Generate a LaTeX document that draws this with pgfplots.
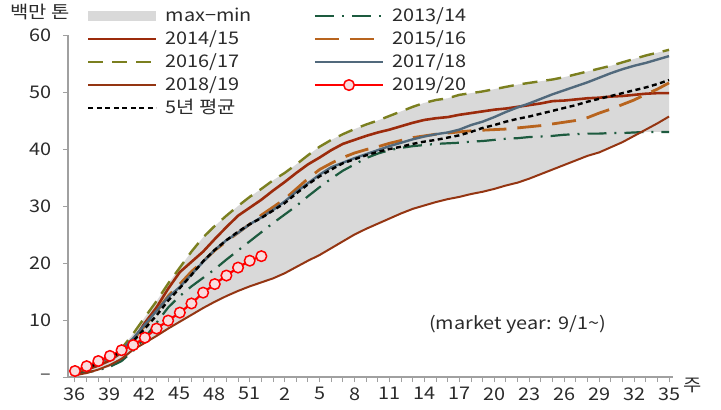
\documentclass[border=0pt]{standalone}
\usepackage{fontspec}
\setmainfont{Noto Sans CJK KR}[FakeStretch=1.14]
\usepackage{pgfplots}
\pgfplotsset{compat=1.18}
\usepackage{pgfplotstable}
\usepgfplotslibrary{fillbetween}

\definecolor{bandgray}{HTML}{D9D9D9}
\definecolor{axisgray}{HTML}{A0A0A0}
\definecolor{labelgray}{HTML}{2B2B2B}
\definecolor{c1314}{HTML}{1D5B3F}
\definecolor{c1415}{HTML}{9C2B0C}
\definecolor{c1516}{HTML}{B8641E}
\definecolor{c1617}{HTML}{7B7F1F}
\definecolor{c1718}{HTML}{51697C}
\definecolor{c1819}{HTML}{943512}
\definecolor{pinkfill}{HTML}{F9DCDE}

\pgfplotstableread{
i A B C D E F G max min
0 0.5 0.8 1.0 1.0 1.1 0.3 0.9 1.1 0.3
1 0.8 1.3 1.6 1.6 1.7 0.7 1.5 1.7 0.7
2 1.2 2.0 2.4 2.4 2.5 1.3 2.4 2.5 1.2
3 1.8 2.9 3.3 3.5 3.5 2.1 3.3 3.5 1.8
4 2.8 4.3 4.6 5.0 4.8 3.2 4.5 5.0 2.8
5 4.6 6.4 6.6 7.6 6.8 4.8 6.3 7.6 4.6
6 6.9 9.5 9.0 10.5 9.2 6.0 8.5 10.5 6.0
7 9.5 12.2 11.5 13.3 11.6 7.2 10.8 13.3 7.2
8 12.2 15.5 14.2 16.4 14.0 8.5 13.4 16.4 8.5
9 14.2 18.4 16.3 19.2 15.8 9.7 15.6 19.2 9.7
10 15.9 20.2 18.5 22.0 18.0 10.9 17.9 22.0 10.9
11 17.4 22.0 20.3 24.5 20.2 12.1 20.3 24.5 12.1
12 18.9 24.2 22.2 26.5 22.3 13.2 22.3 26.5 13.2
13 20.6 26.3 23.8 28.3 24.0 14.2 24.0 28.3 14.2
14 22.2 28.3 25.3 30.0 25.3 15.1 25.5 30.0 15.1
15 23.8 29.7 26.8 31.6 26.8 15.9 26.8 31.6 15.9
16 25.4 31.1 28.4 33.0 28.0 16.6 27.9 33.0 16.6
17 27.0 32.7 29.8 34.5 29.3 17.3 29.2 34.5 17.3
18 28.5 34.2 31.2 35.8 30.8 18.2 30.5 35.8 18.2
19 30.0 35.8 33.0 37.3 32.5 19.3 32.2 37.3 19.3
20 31.7 37.3 34.8 38.9 34.0 20.4 33.8 38.9 20.4
21 33.3 38.5 36.4 40.4 35.5 21.4 35.2 40.4 21.4
22 34.8 39.8 37.5 41.6 36.8 22.6 36.4 41.6 22.6
23 36.2 40.9 38.5 42.6 37.6 23.8 37.5 42.6 23.8
24 37.3 41.6 39.3 43.5 38.4 25.0 38.2 43.5 25.0
25 38.4 42.3 39.9 44.3 39.1 26.0 38.9 44.3 26.0
26 39.2 42.9 40.4 45.0 39.8 26.9 39.5 45.0 26.9
27 39.8 43.4 41.0 45.8 40.5 27.8 40.0 45.8 27.8
28 40.2 44.0 41.5 46.6 41.1 28.7 40.4 46.6 28.7
29 40.5 44.6 42.0 47.4 41.7 29.5 40.9 47.4 29.5
30 40.7 45.1 42.3 48.1 42.2 30.1 41.3 48.1 30.1
31 40.9 45.4 42.6 48.6 42.6 30.7 41.6 48.6 30.7
32 41.0 45.6 42.8 48.9 42.9 31.2 42.0 48.9 31.2
33 41.1 46.0 43.0 49.5 43.4 31.6 42.4 49.5 31.6
34 41.3 46.3 43.2 49.8 44.2 32.1 43.0 49.8 32.1
35 41.4 46.6 43.3 50.1 44.8 32.5 43.7 50.1 32.5
36 41.6 46.9 43.4 50.5 45.6 33.0 44.2 50.5 33.0
37 41.8 47.1 43.5 50.9 46.5 33.6 44.8 50.9 33.6
38 41.9 47.4 43.7 51.3 47.3 34.1 45.3 51.3 34.1
39 42.1 47.7 43.9 51.6 48.0 34.8 45.7 51.6 34.8
40 42.2 48.0 44.1 51.9 48.8 35.6 46.2 51.9 35.6
41 42.3 48.4 44.4 52.2 49.6 36.4 46.7 52.2 36.4
42 42.5 48.5 44.7 52.6 50.3 37.2 47.2 52.6 37.2
43 42.6 48.7 45.0 53.1 51.0 38.0 47.7 53.1 38.0
44 42.7 48.9 45.5 53.6 51.7 38.8 48.3 53.6 38.8
45 42.7 49.0 46.3 54.1 52.5 39.4 48.8 54.1 39.4
46 42.8 49.2 47.0 54.6 53.3 40.3 49.3 54.6 40.3
47 42.8 49.3 47.8 55.2 54.0 41.2 49.8 55.2 41.2
48 42.9 49.5 48.6 55.8 54.6 42.3 50.3 55.8 42.3
49 43.0 49.7 49.6 56.4 55.1 43.4 50.8 56.4 43.0
50 43.0 49.8 50.5 56.9 55.7 44.5 51.4 56.9 43.0
51 43.0 49.8 51.6 57.4 56.3 45.7 52.1 57.4 43.0
}\maindata

\pgfplotstableread{
i H
0 1.05
1 1.9
2 2.8
3 3.7
4 4.7
5 5.6
6 6.9
7 8.5
8 9.9
9 11.3
10 12.9
11 14.8
12 16.3
13 17.8
14 19.2
15 20.4
16 21.2
}\curdata

\begin{document}
\begin{tikzpicture}
\begin{axis}[
  scale only axis, width=605bp, height=342bp,
  xmin=-0.6, xmax=51.34, ymin=0, ymax=60,
  axis x line*=bottom, axis y line*=left,
  axis line style={draw=axisgray, line width=1.3bp},
  xtick={0,3,...,51},
  xticklabels={36,39,42,45,48,51,2,5,8,11,14,17,20,23,26,29,32,35},
  minor xtick={0,...,51},
  ytick={0,10,20,30,40,50,60},
  yticklabels={\textendash,10,20,30,40,50,60},
  tick style={draw=axisgray, line width=1bp},
  major tick length=5bp, minor tick length=5bp,
  tick align=outside,
  /pgf/number format/assume math mode=true,
  ticklabel style={font=\fontsize{17.5}{20}\selectfont, text=labelgray},
  xticklabel style={yshift=-2bp},
  yticklabel style={xshift=-8bp},
  clip=false,
  legend columns=2,
  legend cell align=left,
  legend style={draw=none, fill=none, at={(axis description cs:0.0314,1.089)}, anchor=north west,
    inner sep=0pt, outer sep=0pt, row sep=0pt, font=\fontsize{17.5}{20}\selectfont, text=labelgray,
    nodes={inner xsep=8bp, inner ysep=4.5bp, text height=12bp, text depth=2bp}},
  legend image code/.code={\draw[mark repeat=2,mark phase=2,#1] plot coordinates {(0bp,0bp) (34bp,0bp) (68bp,0bp)};},
  line join=round,
]
\addplot[name path=upper, draw=none, forget plot] table[x=i,y=max]{\maindata};
\addplot[name path=lower, draw=none, forget plot] table[x=i,y=min]{\maindata};
\addplot[fill=bandgray, draw=none, legend image code/.code={\fill[bandgray] (0bp,-5bp) rectangle (68bp,5bp);}] fill between[of=upper and lower];
\addlegendentry{\makebox[140bp][l]{max−min}}

\addplot[c1314, line width=2.2bp, dash pattern=on 19bp off 8bp on 2bp off 8bp] table[x=i,y=A]{\maindata};
\addlegendentry{2013/14}
\addplot[c1415, line width=2.6bp] table[x=i,y=B]{\maindata};
\addlegendentry{\makebox[140bp][l]{2014/15}}
\addplot[c1516, line width=2.8bp, dash pattern=on 24bp off 11bp] table[x=i,y=C]{\maindata};
\addlegendentry{2015/16}
\addplot[c1617, line width=2.4bp, dash pattern=on 15bp off 9bp] table[x=i,y=D]{\maindata};
\addlegendentry{\makebox[140bp][l]{2016/17}}
\addplot[c1718, line width=2.4bp] table[x=i,y=E]{\maindata};
\addlegendentry{2017/18}
\addplot[c1819, line width=2.0bp] table[x=i,y=F]{\maindata};
\addlegendentry{\makebox[140bp][l]{2018/19}}
\addplot[red, line width=2.2bp, mark=*, mark size=5.3bp, mark options={solid, draw=red, fill=pinkfill, line width=1.5bp}] table[x=i,y=H]{\curdata};
\addlegendentry{2019/20}
\addplot[black, line width=2.4bp, dash pattern=on 5bp off 3.5bp] table[x=i,y=G]{\maindata};
\addlegendentry{\makebox[140bp][l]{5년 평균}}

\node[font=\fontsize{17.5}{20}\selectfont, text=labelgray] at (axis cs:38,9.2) {(market year: 9/1\textasciitilde)};
\node[font=\fontsize{17.5}{20}\selectfont, text=labelgray] at (axis description cs:-0.0463,1.067) {백만 톤};
\node[font=\fontsize{17.5}{20}\selectfont, text=labelgray] at (axis description cs:1.033,-0.025) {주};
\end{axis}
\pgfresetboundingbox
\useasboundingbox (-68bp,-33bp) rectangle (653bp,377bp);
\end{tikzpicture}
\end{document}
